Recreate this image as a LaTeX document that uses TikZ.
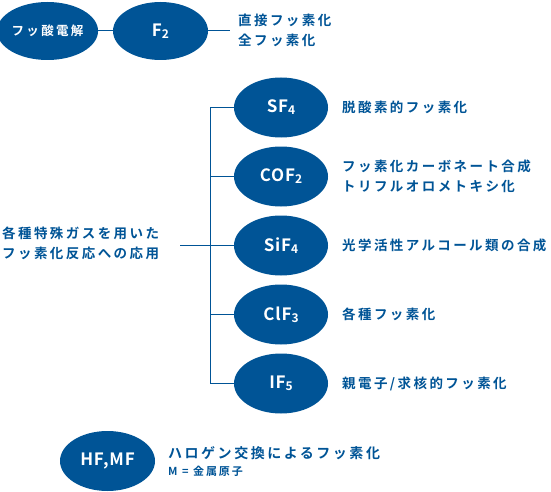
\documentclass[tikz,border=0pt]{standalone}
\usepackage{fontspec}
\newfontfamily\jpfont{Noto Sans CJK JP}[LetterSpace=18,BoldFont={Noto Sans CJK JP Bold}]
\newfontfamily\gasfont{Noto Sans CJK JP}[LetterSpace=5,BoldFont={Noto Sans CJK JP Bold}]
\usetikzlibrary{shapes.geometric,positioning}
\definecolor{navy}{RGB}{0,84,150}
\tikzset{gas/.style={fill=navy,ellipse,minimum width=94pt,minimum height=60pt,inner sep=0pt,text=white,font=\gasfont\bfseries\fontsize{17}{17}\selectfont}}
\tikzset{use/.style={anchor=west,align=left,text=navy,inner sep=0pt,font=\jpfont\bfseries\fontsize{13.5}{20}\selectfont}}
\tikzset{link/.style={draw=navy,line width=1pt}}
\newcommand{\chsub}[1]{\raisebox{-0.2ex}{\fontsize{12}{12}\selectfont #1}}

\begin{document}
\begin{tikzpicture}[x=1pt,y=-1pt]
    \useasboundingbox (0,0) rectangle (551,492);
    \node [gas,minimum width=95pt,minimum height=58pt,font=\jpfont\bfseries\fontsize{12.5}{12.5}\selectfont] (hf) at (47.5,31) {フッ酸電解};
    \node [gas,minimum width=95pt,minimum height=58pt] (f2) at (160.5,31) {F\chsub{2}};
    \coordinate (f2end) at (230,31);
    \node [use] (f2use) at (238,30) {直接フッ素化\\全フッ素化};
    \draw [link] (hf) -- (f2);
    \draw [link] (f2) -- (f2end);

    \node [gas] (sf4) at (281,107.5) {SF\chsub{4}};
    \node [gas] (cof2) at (281,176.5) {COF\chsub{2}};
    \node [gas] (sif4) at (281,245.5) {SiF\chsub{4}};
    \node [gas] (clf3) at (281,314.5) {ClF\chsub{3}};
    \node [gas] (if5) at (281,383.5) {IF\chsub{5}};
    \node [use] (sf4use) at (342,107.5) {脱酸素的フッ素化};
    \node [use] (cof2use) at (342,176.5) {フッ素化カーボネート合成\\トリフルオロメトキシ化};
    \node [use] (sif4use) at (342,245.5) {光学活性アルコール類の合成};
    \node [use] (clf3use) at (342,314.5) {各種フッ素化};
    \node [use] (if5use) at (342,383.5) {親電子/求核的フッ素化};
    \node [use] (apps) at (2,243.5) {各種特殊ガスを用いた\\フッ素化反応への応用};
    \coordinate (appsend) at (180,245.5);
    \draw [link] (sf4.west) -- ++(-23.5,0) |- (if5.west);
    \draw [link] (cof2.west) -- ++(-23.5,0);
    \draw [link] (clf3.west) -- ++(-23.5,0);
    \draw [link] (appsend) -- (sif4.west);

    \node [gas,minimum width=95pt] (hfmf) at (107.5,461) {HF,MF};
    \node [use,font=\jpfont\bfseries\fontsize{14}{14}\selectfont] (hfmfuse) at (168,453) {ハロゲン交換によるフッ素化};
    \node [use,font=\jpfont\bfseries\fontsize{11}{11}\selectfont] (metal) at (168,471) {M = 金属原子};
\end{tikzpicture}
\end{document}
